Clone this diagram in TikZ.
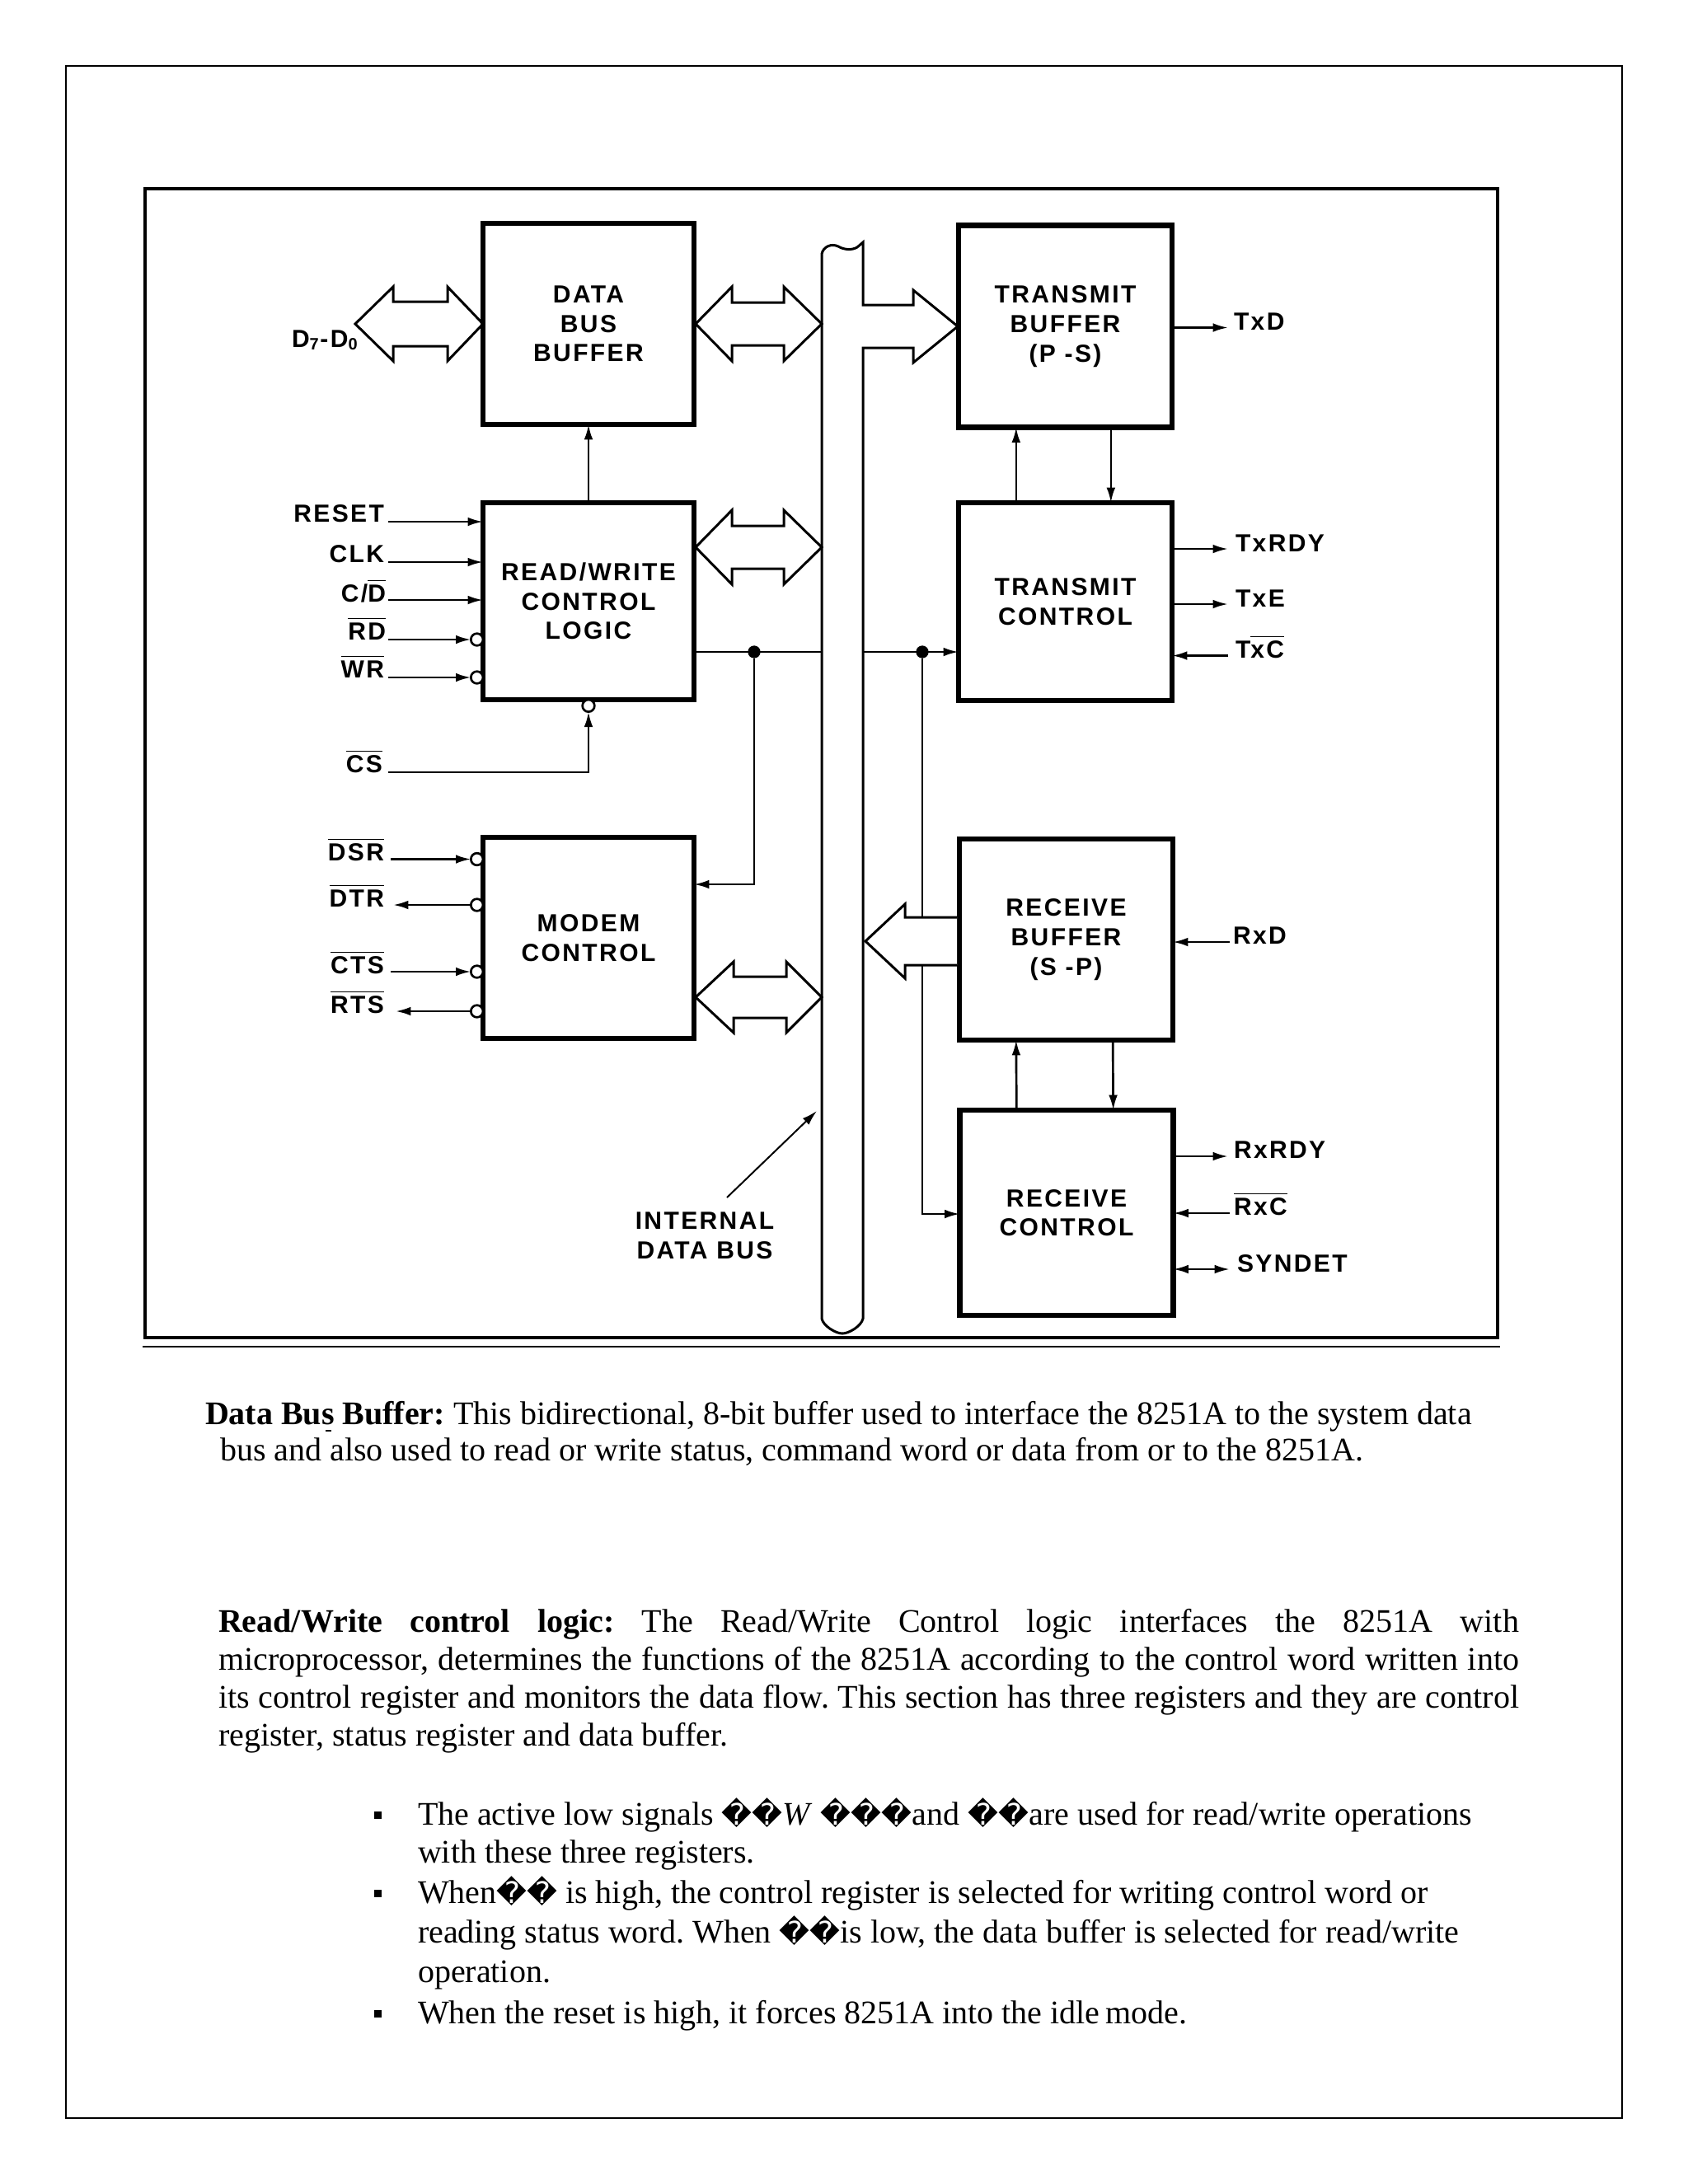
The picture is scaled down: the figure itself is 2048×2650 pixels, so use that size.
\documentclass[tikz,border=0pt]{standalone}
\usepackage{fontspec}
\setmainfont{Liberation Serif}
\newfontfamily\dfont{Liberation Sans}[LetterSpace=8]
\newfontfamily\repfont{DejaVu Sans}[Scale=0.9]
\usetikzlibrary{arrows.meta,calc}
\newcommand\ovl[1]{\ensuremath{\overline{\mbox{#1}}}}
\newcommand\rep{{\repfont\symbol{"FFFD}}}
\newcommand\fatdbl[7]{\draw[fat] (#1,#5) -- (#2,{#5-#7}) -- (#2,{#5-#6}) -- (#3,{#5-#6}) -- (#3,{#5-#7}) -- (#4,#5) -- (#3,{#5+#7}) -- (#3,{#5+#6}) -- (#2,{#5+#6}) -- (#2,{#5+#7}) -- cycle;}
\frenchspacing
\begin{document}
\begin{tikzpicture}[x=0.3pt,y=-0.3pt,
  >={Latex[length=5.5pt,width=3.2pt]},
  blk/.style={draw, line width=2pt, inner sep=0pt, outer sep=0pt, align=center, font=\dfont\bfseries\fontsize{9}{10.7}\selectfont},
  lbl/.style={inner sep=0pt, outer sep=0pt, font=\dfont\bfseries\fontsize{9}{10.7}\selectfont},
  sig/.style={line width=0.8pt},
  fat/.style={line width=0.9pt, line join=miter},
  bub/.style={circle, draw, line width=0.8pt, fill=white, minimum size=4.4pt, inner sep=0pt, outer sep=0pt},
  jdot/.style={circle, fill, minimum size=4.6pt, inner sep=0pt, outer sep=0pt},
  txt/.style={inner sep=0pt, outer sep=0pt, font=\fontsize{12}{13.8}\selectfont},
  bsq/.style={fill, minimum size=2.7pt, inner sep=0pt},
]
\useasboundingbox (0,0) rectangle (2048,2650);
% page border and frames
\draw[line width=0.8pt] (80,80) rectangle (1968,2570);
\draw[line width=1.1pt] (176,229) rectangle (1817,1623);
\draw[line width=0.6pt] (173,1634) -- (1820,1634);

% internal bus with arrow into transmit buffer
\draw[fat, fill=white] (997,1600) -- (997,308)
  .. controls (999,299) and (1009,295) .. (1017,299)
  .. controls (1024,303) and (1033,304) .. (1040,300)
  -- (1047,294) -- (1047,370) -- (1108,370) -- (1108,352) -- (1162,396) -- (1108,440) -- (1108,422) -- (1047,422) -- (1047,1600)
  .. controls (1045,1609) and (1030,1618) .. (1022,1618)
  .. controls (1014,1618) and (999,1609) .. (997,1600) -- cycle;

% blocks
\node[blk, minimum width=76.8pt, minimum height=73.2pt] (dbb) at (714,393) {DATA\\BUS\\BUFFER};
\node[blk, minimum width=76.8pt, minimum height=71.7pt] (rwcl) at (714,729.5) {READ/WRITE\\CONTROL\\LOGIC};
\node[blk, minimum width=76.8pt, minimum height=73.2pt] (mc) at (714,1138) {MODEM\\CONTROL};
\node[blk, minimum width=77.7pt, minimum height=73.5pt] (tb) at (1292.5,396) {TRANSMIT\\BUFFER\\(P -S)};
\node[blk, minimum width=77.7pt, minimum height=72pt] (tc) at (1292.5,730) {TRANSMIT\\CONTROL};
\node[blk, minimum width=77.7pt, minimum height=73.2pt] (rb) at (1293.5,1140) {RECEIVE\\BUFFER\\(S -P)};
\node[blk, minimum width=77.7pt, minimum height=74.7pt] (rc) at (1294,1471.5) {RECEIVE\\CONTROL};

% fat bus arrows
\fatdbl{431}{477}{543}{586}{393}{27}{45}
\node[lbl, anchor=base west] (l_d) at (354,421) {D\textsubscript{7}-D\textsubscript{0}};
\fatdbl{844}{888}{951}{997}{393}{26}{45}
\fatdbl{844}{888}{951}{997}{664}{26}{45}
\fatdbl{844}{890}{954}{997}{1210}{25}{43}

% read/write control inputs
\coordinate (c_reset) at (471,633);
\node[lbl, anchor=base east] (l_reset) at (466,633) {RESET};
\draw[sig,->] (c_reset) -- (c_reset -| rwcl.west);
\coordinate (c_clk) at (471,682);
\node[lbl, anchor=base east] (l_clk) at (466,682) {CLK};
\draw[sig,->] (c_clk) -- (c_clk -| rwcl.west);
\coordinate (c_cd) at (471,728);
\node[lbl, anchor=base east] (l_cd) at (468,730) {C/\ovl{D}};
\draw[sig,->] (c_cd) -- (c_cd -| rwcl.west);
\coordinate (c_rd) at (471,776);
\node[lbl, anchor=base east] (l_rd) at (468,776) {\ovl{RD}};
\node[bub, anchor=east] (b_rd) at (c_rd -| rwcl.west) {};
\draw[sig,->] (c_rd) -- (b_rd.west);
\coordinate (c_wr) at (471,822);
\node[lbl, anchor=base east] (l_wr) at (466,822) {\ovl{WR}};
\node[bub, anchor=east] (b_wr) at (c_wr -| rwcl.west) {};
\draw[sig,->] (c_wr) -- (b_wr.west);
\coordinate (c_cs) at (471,937);
\node[lbl, anchor=base east] (l_cs) at (464,937) {\ovl{CS}};
\node[bub, anchor=north] (b_cs) at (rwcl.south) {};
\draw[sig,->] (c_cs) -| (b_cs.south);
\draw[sig,->] (rwcl.north) -- (dbb.south);

% modem control signals
\coordinate (c_dsr) at (474,1042.5);
\node[lbl, anchor=base east] (l_dsr) at (466,1044) {\ovl{DSR}};
\node[bub, anchor=east] (b_dsr) at (c_dsr -| mc.west) {};
\draw[sig,->] (c_dsr) -- (b_dsr.west);
\coordinate (c_dtr) at (477,1098);
\node[lbl, anchor=base east] (l_dtr) at (466,1100) {\ovl{DTR}};
\node[bub, anchor=east] (b_dtr) at (c_dtr -| mc.west) {};
\draw[sig,->] (b_dtr.west) -- (c_dtr);
\coordinate (c_cts) at (474,1179);
\node[lbl, anchor=base east] (l_cts) at (466,1181) {\ovl{CTS}};
\node[bub, anchor=east] (b_cts) at (c_cts -| mc.west) {};
\draw[sig,->] (c_cts) -- (b_cts.west);
\coordinate (c_rts) at (480,1227);
\node[lbl, anchor=base east] (l_rts) at (466,1229) {\ovl{RTS}};
\node[bub, anchor=east] (b_rts) at (c_rts -| mc.west) {};
\draw[sig,->] (b_rts.west) -- (c_rts);

% internal control lines
\coordinate (busL) at (997,791);
\coordinate (busR) at (1047,791);
\node[jdot] (j1) at (915,791) {};
\node[jdot] (j2) at (1119,791) {};
\draw[sig] (busL -| rwcl.east) -- (busL);
\draw[sig,->] (busR) -- (busR -| tc.west);
\coordinate (k1) at (915,1073);
\draw[sig,->] (j1) |- (k1 -| mc.east);
\coordinate (k2) at (1119,1473);
\draw[sig,->] (j2) |- (k2 -| rc.west);

% receive buffer to bus
\draw[fat, fill=white] (1161,1113) -- (1098,1113) -- (1098,1097) -- (1050,1142) -- (1098,1187) -- (1098,1171) -- (1161,1171);

% transmit / receive internal arrows
\draw[sig,->] ([xshift=-17.9pt]tc.north) -- ([xshift=-17.9pt]tb.south);
\draw[sig,->] ([xshift=16.6pt]tb.south) -- ([xshift=16.6pt]tc.north);
\draw[sig,->] ([xshift=-18.2pt]rc.north) -- ([xshift=-18.2pt]rb.south);
\draw[sig,->] ([xshift=17pt]rb.south) -- ([xshift=17pt]rc.north);

% transmit side signals
\coordinate (c_txd) at (1490,397.5);
\draw[sig,->] (c_txd -| tb.east) -- (c_txd);
\node[lbl, anchor=base west] (l_txd) at (1497,400) {TxD};
\coordinate (c_txrdy) at (1490,666);
\draw[sig,->] (c_txrdy -| tc.east) -- (c_txrdy);
\node[lbl, anchor=base west] (l_txrdy) at (1499,669) {TxRDY};
\coordinate (c_txe) at (1490,733);
\draw[sig,->] (c_txe -| tc.east) -- (c_txe);
\node[lbl, anchor=base west] (l_txe) at (1499,736) {TxE};
\coordinate (c_txc) at (1490,795.5);
\draw[sig,->] (c_txc) -- (c_txc -| tc.east);
\node[lbl, anchor=base west] (l_txc) at (1499,798) {T\ovl{xC}};

% receive side signals
\coordinate (c_rxd) at (1492,1143);
\draw[sig,->] (c_rxd) -- (c_rxd -| rb.east);
\node[lbl, anchor=base west] (l_rxd) at (1496,1145) {RxD};
\coordinate (c_rxrdy) at (1490,1403);
\draw[sig,->] (c_rxrdy -| rc.east) -- (c_rxrdy);
\node[lbl, anchor=base west] (l_rxrdy) at (1497,1405) {RxRDY};
\coordinate (c_rxc) at (1492,1472);
\draw[sig,->] (c_rxc) -- (c_rxc -| rc.east);
\node[lbl, anchor=base west] (l_rxc) at (1497,1474) {\ovl{RxC}};
\coordinate (c_syn) at (1492,1540);
\draw[sig,<->] (c_syn -| rc.east) -- (c_syn);
\node[lbl, anchor=base west] (l_syn) at (1501,1543) {SYNDET};

% internal data bus label
\node[lbl, align=center] (l_idb) at (855,1499) {INTERNAL\\DATA BUS};
\coordinate (p1) at (882,1453);
\coordinate (p2) at (991,1348);
\draw[line width=0.6pt,->] (p1) -- (p2);

% text below
\node[txt, anchor=base west] (p1a) at (249,1728) {\textbf{Data Bu\makebox[0pt][l]{\kern1.6pt\rule[-2.8pt]{2pt}{0.6pt}}s Buffer:} This bidirectional, 8-bit buffer used to interface the 8251A to the system data};
\node[txt, anchor=base west] (p1b) at (267,1772) {bus and also used to read or write status, command word or data from or to the 8251A.};

\node[txt, anchor=base west] (p2a) at (265,1980) {\makebox[473.4pt][s]{\textbf{Read/Write control logic:} The Read/Write Control logic interfaces the 8251A with}};
\node[txt, anchor=base west] (p2b) at (265,2026) {\makebox[473.4pt][s]{microprocessor, determines the functions of the 8251A according to the control word written into}};
\node[txt, anchor=base west] (p2c) at (265,2072) {\makebox[473.4pt][s]{its control register and monitors the data flow. This section has three registers and they are control}};
\node[txt, anchor=base west] (p2d) at (265,2118) {register, status register and data buffer.};

\node[bsq] (q1) at (458,2202) {};
\node[txt, anchor=base west] (b1a) at (507,2214) {The active low signals \rep\rep\textit{W} \rep\rep\rep{}and \rep\rep{}are used for read/write operations};
\node[txt, anchor=base west] (b1b) at (507,2260) {with these three registers.};
\node[bsq] (q2) at (458,2297) {};
\node[txt, anchor=base west] (b2a) at (507,2309) {When\rep\rep{} is high, the control register is selected for writing control word or};
\node[txt, anchor=base west] (b2b) at (507,2357) {reading status word. When \rep\rep{}is low, the data buffer is selected for read/write};
\node[txt, anchor=base west] (b2c) at (507,2405) {operation.};
\node[bsq] (q3) at (458,2443) {};
\node[txt, anchor=base west] (b3a) at (507,2455) {When the reset is high, it forces 8251A into the idle\hspace{2pt}mode.};
\end{tikzpicture}
\end{document}
